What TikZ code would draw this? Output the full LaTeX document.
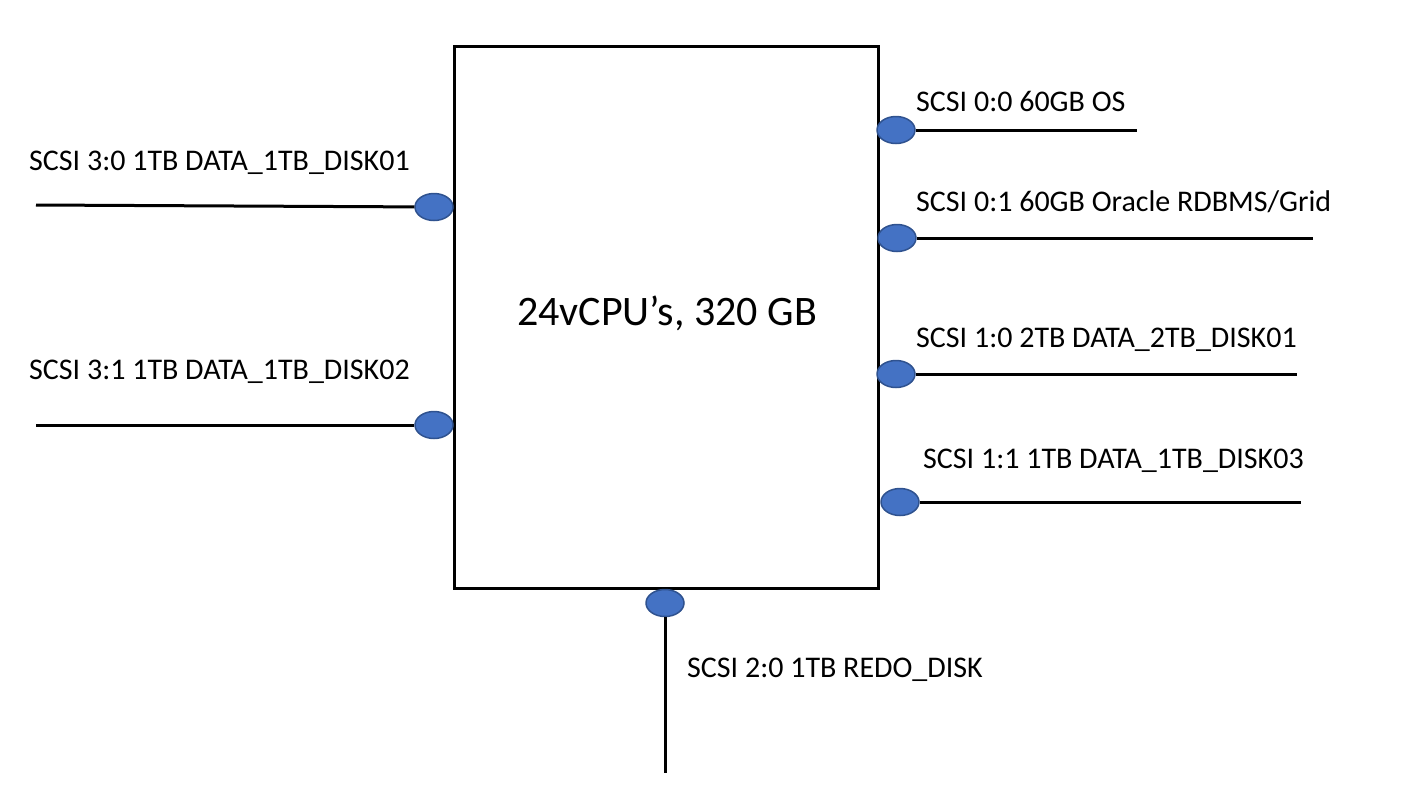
\documentclass[tikz,border=0pt]{standalone}
\usepackage{fontspec}
\setmainfont{Carlito}
\usetikzlibrary{shapes.geometric}
\definecolor{portfill}{HTML}{4472C4}
\definecolor{portline}{HTML}{2F528F}
\begin{document}
\begin{tikzpicture}[x=1pt,y=-1pt,
  port/.style={ellipse,draw=portline,fill=portfill,line width=1.5pt,minimum width=38pt,minimum height=27pt,inner sep=0pt},
  wire/.style={line width=3pt,black},
  lbl/.style={font=\fontsize{30}{34}\selectfont,anchor=base west,inner sep=0pt}]
\useasboundingbox (0,0) rectangle (1408,793);
\node[draw,line width=3pt,minimum width=424pt,minimum height=542pt,inner sep=0pt] (box) at (666,317) {};
\node[font=\fontsize{42}{46}\selectfont,anchor=base,inner sep=0pt] (cpu) at (667,325) {24vCPU’s, 320 GB};
\coordinate (r1e) at (1137,130);
\coordinate (r2e) at (1313,238);
\coordinate (r3e) at (1297,374);
\coordinate (r4e) at (1301,502);
\coordinate (l1e) at (36,205);
\coordinate (l2e) at (36,425);
\coordinate (be) at (665,773);
\node[port] (r1) at (896,130) {};
\node[port] (r2) at (897,238) {};
\node[port] (r3) at (896,374) {};
\node[port] (r4) at (900,502) {};
\node[port] (l1) at (434,207) {};
\node[port] (l2) at (434,425) {};
\node[port] (b) at (665,603) {};
\draw[wire] (r1) -- (r1e);
\draw[wire] (r2) -- (r2e);
\draw[wire] (r3) -- (r3e);
\draw[wire] (r4) -- (r4e);
\draw[wire] (l1) -- (l1e);
\draw[wire] (l2) -- (l2e);
\draw[wire] (b) -- (be);
\node[lbl] (tr1) at (916,111) {SCSI 0:0 60GB OS};
\node[lbl] (tr2) at (916,211) {SCSI 0:1 60GB Oracle RDBMS/Grid};
\node[lbl] (tr3) at (916,347) {SCSI 1:0 2TB DATA\_2TB\_DISK01};
\node[lbl] (tr4) at (923,468) {SCSI 1:1 1TB DATA\_1TB\_DISK03};
\node[lbl] (tl1) at (29,170) {SCSI 3:0 1TB DATA\_1TB\_DISK01};
\node[lbl] (tl2) at (29,379) {SCSI 3:1 1TB DATA\_1TB\_DISK02};
\node[lbl] (tb) at (687,677) {SCSI 2:0 1TB REDO\_DISK};
\end{tikzpicture}
\end{document}
